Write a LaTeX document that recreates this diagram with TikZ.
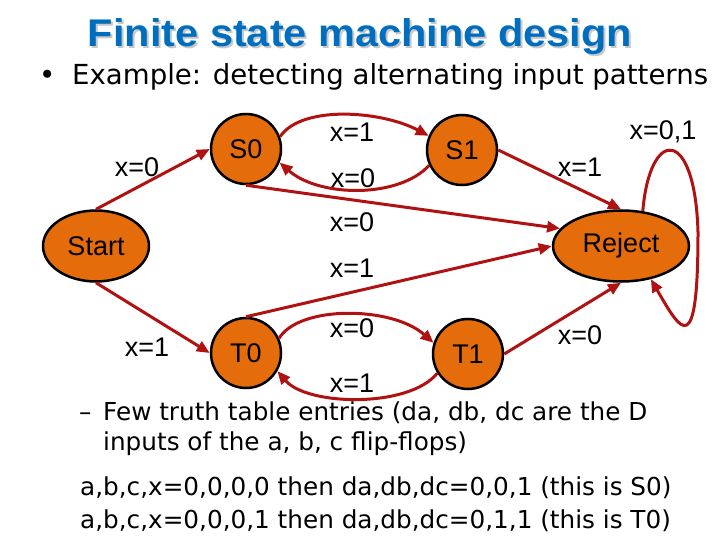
\documentclass[tikz,border=0pt]{standalone}
\usepackage{fontspec}
\setmainfont{Liberation Sans}
\newfontfamily\tahomaf{DejaVu Sans}
\usetikzlibrary{arrows.meta,shapes.geometric}
\definecolor{edgered}{RGB}{176,18,18}
\definecolor{stateorange}{RGB}{228,108,10}
\definecolor{titleblue}{RGB}{0,110,190}
\definecolor{shadowgray}{RGB}{200,200,200}
\begin{document}
\begin{tikzpicture}[x=1pt,y=-1pt,
  statecircle/.style={circle,draw=black,line width=2.5pt,fill=stateorange,minimum size=70pt,inner sep=0pt,font=\fontsize{27}{27}\selectfont},
  stateellipse/.style={ellipse,draw=black,line width=2.5pt,fill=stateorange,minimum height=71pt,inner sep=0pt,font=\fontsize{27}{27}\selectfont},
  trans/.style={draw=edgered,line width=3pt,-{Triangle[length=13pt,width=11pt]}},
  lbl/.style={font=\fontsize{27}{27}\selectfont,inner sep=0pt},
  bodytext/.style={font=\tahomaf\fontsize{24.7}{24.7}\selectfont,anchor=base west,inner sep=0pt},
  titletext/.style={font=\bfseries\fontsize{41.5}{41.5}\selectfont,anchor=base,inner sep=0pt}
]
\useasboundingbox (0,0) rectangle (720,540);
% title with its shadow
\node[titletext,text=shadowgray] (titleshadow) at (362,49) {\scalebox{1}[0.93]{Finite state machine design}};
\node[titletext,text=titleblue] (title) at (360,47) {\scalebox{1}[0.93]{Finite state machine design}};
\node[bodytext,font=\tahomaf\fontsize{27.6}{27.6}\selectfont] (bullet) at (39,85) {•};
\node[bodytext,font=\tahomaf\fontsize{27.6}{27.6}\selectfont] (subtitle) at (72,85) {Example: detecting alternating input patterns};
% states
\node[statecircle] (s0) at (246,149) {S0};
\node[statecircle] (s1) at (462,150) {S1};
\node[statecircle] (t0) at (246,353) {T0};
\node[statecircle] (t1) at (468,354) {T1};
\node[stateellipse,minimum width=106pt] (start) at (96,246) {Start};
\node[stateellipse,minimum width=136pt] (reject) at (621,246) {Reject};
% transitions
\draw[trans] (start.north) -- (s0.west);
\draw[trans] (start.south) -- (t0.west);
\draw[trans] (s0.20) .. controls +(22,-32) and +(-47,-25) .. (s1.157);
\draw[trans] (s1.205) .. controls +(-30,33) and +(40,35) .. (s0.-22);
\draw[trans] (s0.south) -- (reject.164);
\draw[trans] (t0.north) -- (reject.west);
\draw[trans] (t0.24) .. controls +(20,-33) and +(-42,-37) .. (t1.162);
\draw[trans] (t1.212) .. controls +(-28,35) and +(30,35) .. (t0.-30);
\draw[trans] (s1.east) -- (reject.north);
\draw[trans] (t1.east) -- (reject.south);
\coordinate (loopright) at (698,232);
\draw[trans] (reject.58) .. controls +(7,-84) and +(-3,-106) .. (loopright) .. controls +(0,130) and +(30,52) .. (reject.-48);
% labels
\node[lbl] (l1) at (137,167) {x=0};
\node[lbl] (l2) at (147,347) {x=1};
\node[lbl] (l3) at (352,132) {x=1};
\node[lbl] (l4) at (353,178) {x=0};
\node[lbl] (l5) at (352,222) {x=0};
\node[lbl] (l6) at (352,268) {x=1};
\node[lbl] (l7) at (352,328) {x=0};
\node[lbl] (l8) at (352,383) {x=1};
\node[lbl] (l9) at (580,167) {x=1};
\node[lbl] (l10) at (580,335) {x=0};
\node[lbl] (l11) at (663,132) {x=0,1};
% bottom text
\node[bodytext] (dash) at (79,420) {–};
\node[bodytext] (line1) at (103,420) {Few truth table entries (da, db, dc are the D};
\node[bodytext] (line2) at (103,450) {inputs of the a, b, c flip-flops)};
\node[bodytext] (line3) at (80,495) {a,b,c,x=0,0,0,0 then da,db,dc=0,0,1 (this is S0)};
\node[bodytext] (line4) at (80,528) {a,b,c,x=0,0,0,1 then da,db,dc=0,1,1 (this is T0)};
\end{tikzpicture}
\end{document}
